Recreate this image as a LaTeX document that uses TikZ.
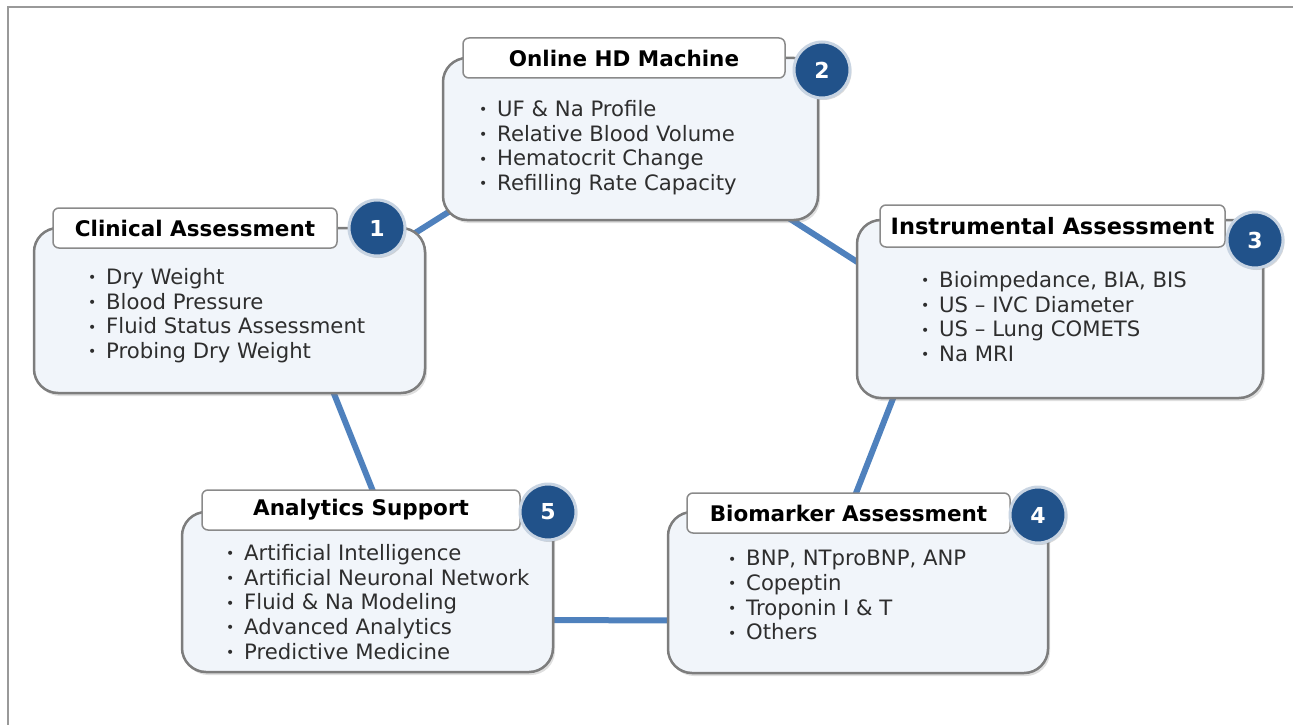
\documentclass[tikz,border=0pt]{standalone}
\usepackage{fontspec}
\setmainfont{DejaVu Sans}
\usetikzlibrary{calc,backgrounds,shadows}
\definecolor{boxfill}{RGB}{241,245,250}
\definecolor{boxline}{RGB}{125,125,125}
\definecolor{linkblue}{RGB}{79,129,189}
\definecolor{numblue}{RGB}{33,82,138}
\definecolor{ringgray}{RGB}{200,212,226}
\newcommand{\bul}{\makebox[18pt][l]{\raisebox{1.5pt}{\fontsize{14}{14}\selectfont\textbullet}}}

\begin{document}
\begin{tikzpicture}[x=1pt,y=-1pt]
		\tikzstyle{every node}=[font=\fontsize{21.2}{24.7}\selectfont]
		\tikzstyle{panel}=[draw=boxline, line width=2.5pt, rounded corners=24pt, fill=boxfill, drop shadow={opacity=0.25, shadow xshift=2pt, shadow yshift=-3pt}]
		\tikzstyle{tab}=[draw=boxline!90, line width=1.5pt, rounded corners=6pt, fill=white, font=\fontsize{21.5}{24}\selectfont\bfseries]
		\tikzstyle{items}=[anchor=north west, align=left, inner sep=0pt, text=black!82]
		\tikzstyle{num}=[circle, minimum size=56pt, inner sep=0pt, fill=numblue, draw=ringgray, line width=3pt, text=white, font=\fontsize{22}{22}\selectfont\bfseries, drop shadow={opacity=0.3, shadow xshift=1.5pt, shadow yshift=-2pt}]
		\tikzstyle{link}=[linkblue, line width=6pt]
		
		\useasboundingbox (0,0) rectangle (1293,725);
		\draw [black!40, line width=1.5pt] (8,725) -- (8,7) -- (1293,7);
		
		% clinical
		\node [panel, minimum width=391pt, minimum height=165pt] (b1) at (229.5,310.5) {};
		\node [tab, minimum width=284pt, minimum height=40pt] (t1) at (195,228) {Clinical Assessment};
		\node [num] (n1) at (377,228) {1};
		\node [items] (i1) at (88,268) {\bul Dry Weight\\ \bul Blood Pressure\\ \bul Fluid Status Assessment\\ \bul Probing Dry Weight};
		
		% online HD
		\node [panel, minimum width=375pt, minimum height=162pt] (b2) at (630.5,139) {};
		\node [tab, minimum width=322pt, minimum height=40pt] (t2) at (624,58) {Online HD Machine};
		\node [num] (n2) at (822,70) {2};
		\node [items] (i2) at (479,100) {\bul UF \& Na Profile\\ \bul Relative Blood Volume\\ \bul Hematocrit Change\\ \bul Refilling Rate Capacity};
		
		% instrumental
		\node [panel, minimum width=406pt, minimum height=178pt] (b3) at (1060,309) {};
		\node [tab, minimum width=345pt, minimum height=42pt, font=\fontsize{22.5}{24}\selectfont\bfseries] (t3) at (1052.5,226) {Instrumental Assessment};
		\node [num] (n3) at (1255,240) {3};
		\node [items] (i3) at (921,271) {\bul Bioimpedance, BIA, BIS\\ \bul US – IVC Diameter\\ \bul US – Lung COMETS\\ \bul Na MRI};
		
		% biomarker
		\node [panel, minimum width=380pt, minimum height=161pt] (b4) at (858,592.5) {};
		\node [tab, minimum width=323pt, minimum height=40pt] (t4) at (848.5,513) {Biomarker Assessment};
		\node [num] (n4) at (1038,515) {4};
		\node [items] (i4) at (728,550) {\bul BNP, NTproBNP, ANP\\ \bul Copeptin\\ \bul Troponin I \& T\\ \bul Others};
		
		% analytics
		\node [panel, minimum width=371pt, minimum height=160pt] (b5) at (367.5,592) {};
		\node [tab, minimum width=318pt, minimum height=40pt] (t5) at (361,510) {Analytics Support};
		\node [num] (n5) at (548,512) {5};
		\node [items] (i5) at (226,544) {\bul Artificial Intelligence\\ \bul Artificial Neuronal Network\\ \bul Fluid \& Na Modeling\\ \bul Advanced Analytics\\ \bul Predictive Medicine};
		
		\begin{scope}[on background layer]
		\draw [link] ($(b1.north east)+(-25,15)$) -- ($(b2.south west)+(27,-22)$);
		\draw [link] ($(b2.south east)+(-38,-8)$) -- ($(b3.north west)+(23,57)$);
		\draw [link] ($(b3.south west)+(44,-18)$) -- ($(b4.north)+(-12,8)$);
		\draw [link] ($(b5.east)+(-15,28)$) -- ($(b4.west)+(15,28)$);
		\draw [link] ($(b5.north)+(16.5,8)$) -- ($(b1.south)+(99.5,-13)$);
		\end{scope}
		
\end{tikzpicture}
\end{document}
